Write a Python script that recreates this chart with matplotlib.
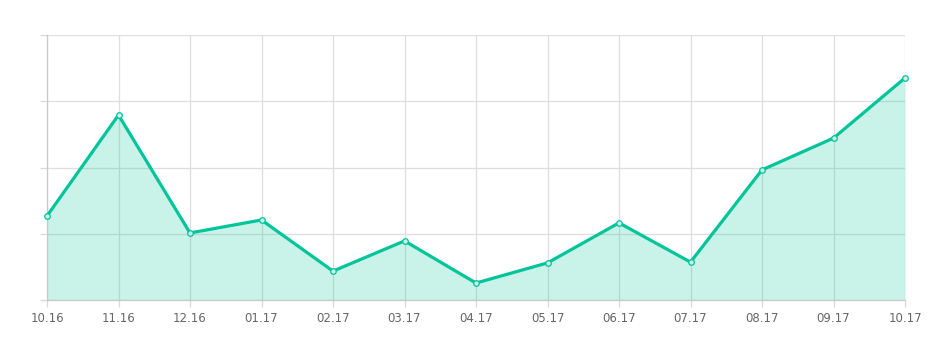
import matplotlib.pyplot as plt

# 月份标签和数值 (从图中估读, 0-100 刻度)
months = ["10.16", "11.16", "12.16", "01.17", "02.17", "03.17", "04.17",
          "05.17", "06.17", "07.17", "08.17", "09.17", "10.17"]
values = [31.7, 69.8, 25.3, 30.2, 10.9, 22.3, 6.4,
          14.0, 29.1, 14.3, 49.1, 61.1, 83.8]
y_ticks = [0, 25, 50, 75, 100]

line_color = "#00c49a"


def main():
    fig = plt.figure(figsize=(9.5, 3.55), dpi=100)
    ax = fig.add_axes([47 / 950, 55 / 355, 858 / 950, 265 / 355])

    x = list(range(len(months)))
    # 半透明填充, 让网格线透出来
    ax.fill_between(x, values, 0, color=line_color, alpha=0.21, linewidth=0, zorder=2)
    ax.plot(x, values, color=line_color, linewidth=2.3, zorder=3,
            solid_joinstyle="round", solid_capstyle="round")
    ax.scatter(x, values, s=16, facecolor="#c9f2e8", edgecolor=line_color,
               linewidth=0.9, zorder=4, clip_on=False)

    ax.set_xlim(0, len(months) - 1)
    ax.set_ylim(0, 100)
    ax.set_xticks(x)
    ax.set_xticklabels(months)
    ax.set_yticks(y_ticks)
    ax.set_yticklabels([])

    ax.grid(True, color="#dedede", linewidth=0.9, zorder=0)
    ax.set_axisbelow(True)
    for name, sp in ax.spines.items():
        if name in ("left", "bottom"):
            sp.set_color("#c8c8c8")
            sp.set_linewidth(0.9)
        else:
            sp.set_visible(False)
    ax.tick_params(axis="both", length=5, width=0.9, color="#d8d8d8",
                   labelsize=8.5, labelcolor="#666666", pad=4)

    fig.savefig("out.png", dpi=100, facecolor="white")


main()
